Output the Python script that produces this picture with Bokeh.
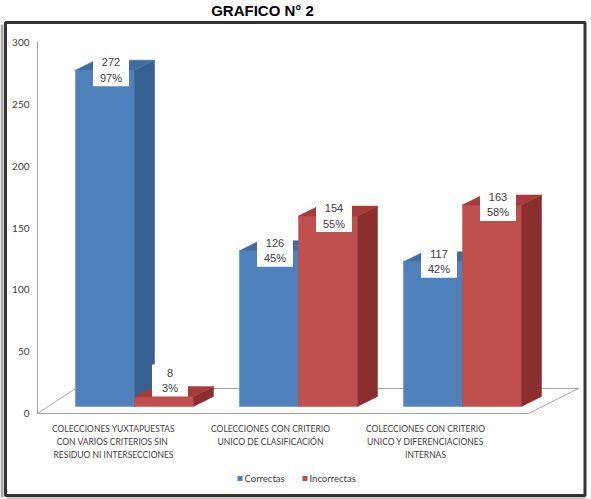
from bokeh.plotting import figure
from bokeh.models import Range1d
from bokeh.embed import file_html
from bokeh.resources import INLINE
from bokeh.core.properties import value

# --- data ---------------------------------------------------------------
title_text = "GRAFICO N° 2"
category_lines = [
    ["COLECCIONES YUXTAPUESTAS", "CON VARIOS CRITERIOS  SIN", "RESIDUO NI INTERSECCIONES"],
    ["COLECCIONES CON CRITERIO", "UNICO DE CLASIFICACIÓN"],
    ["COLECCIONES CON CRITERIO", "UNICO Y DIFERENCIACIONES", "INTERNAS"],
]
series_names = ["Correctas", "Incorrectas"]
correctas = [272, 126, 117]
incorrectas = [8, 154, 163]
pct_correctas = ["97%", "45%", "42%"]
pct_incorrectas = ["3%", "55%", "58%"]
y_ticks = [0, 50, 100, 150, 200, 250, 300]

# --- styling / layout ---------------------------------------------------
W, H = 591, 499
K = 371 / 300            # pixels per unit on the value scale
Y0_PX = 413              # pixel row of value 0 on the front plane
FONT = value("Lato")
TXT = "#404040"
face_colors = {
    "Correctas": ("#4f81bd", "#35608f", "#3f6ca3"),     # front, side, top
    "Incorrectas": ("#c0504d", "#8a2f2d", "#a63c39"),
}
GX0, GSTEP, BW = 75, 164, 59      # group start, group step, bar width (px)
DX, DY = 20, 10 / K               # bar depth offset (px, value units)
BASE = 7 / K                      # bars stand a little behind the front edge
FLOOR_D = 25 / K

p = figure(width=W, height=H,
           x_range=Range1d(0, W),
           y_range=Range1d(-(H - Y0_PX) / K, Y0_PX / K),
           x_axis_type=None, y_axis_type=None,
           output_backend="svg", toolbar_location=None,
           min_border=0, min_border_left=0, min_border_right=0,
           min_border_top=0, min_border_bottom=0,
           outline_line_color=None,
           background_fill_color="white", border_fill_color="white")
p.grid.visible = False
# a second vertical scale in screen rows for the frame and text furniture
p.extra_y_ranges = {"px": Range1d(H, 0)}

# chart frame with a soft shadow
p.segment(x0=[1.5], y0=[24], x1=[1.5], y1=[497], line_color="#a8a8a8",
          line_width=3, y_range_name="px")
p.segment(x0=[6], y0=[497.5], x1=[586], y1=[497.5], line_color="#c8c8c8",
          line_width=2, y_range_name="px")
p.quad(left=[5], right=[584.5], top=[22], bottom=[495], fill_color=None,
       line_color="#333333", line_width=3, y_range_name="px")

# title above the frame
p.text(x=[262], y=[10], text=[title_text], y_range_name="px",
       text_font=value("Liberation Sans"), text_font_style="bold",
       text_font_size="15px", text_color="black",
       text_align="center", text_baseline="middle")

# floor and value axis line
p.patch(x=[37, 528, 578, 75], y=[0, 0, FLOOR_D, FLOOR_D],
        fill_color="white", line_color="#a6a6a6", line_width=1)
p.segment(x0=[37], y0=[0], x1=[37], y1=[(Y0_PX - 41) / K],
          line_color="#a6a6a6", line_width=1)
p.text(x=[29] * len(y_ticks), y=y_ticks, text=[str(t) for t in y_ticks],
       text_font=FONT, text_font_size="10px", text_color=TXT,
       text_align="right", text_baseline="middle")

# 3-D columns, drawn back to front, left to right
xs, ys, colors = [], [], []
lab_x, lab_y, lab_t1, lab_t2 = [], [], [], []
series = [(correctas, pct_correctas), (incorrectas, pct_incorrectas)]
for ci in range(len(correctas)):
    for si, (vals, pcts) in enumerate(series):
        v = vals[ci]
        front, side, top = face_colors[series_names[si]]
        x0 = GX0 + ci * GSTEP + si * BW
        x1 = x0 + BW
        b, t = BASE, BASE + v
        xs += [[x0, x1, x1, x0], [x1, x1 + DX, x1 + DX, x1], [x0, x1, x1 + DX, x0 + DX]]
        ys += [[b, b, t, t], [b, b + DY, t + DY, t], [t, t, t + DY, t + DY]]
        colors += [front, side, top]
        lab_x.append((x0 + x1) / 2 + 6)
        lab_y.append(BASE + max(v, 21))
        lab_t1.append(str(v))
        lab_t2.append(pcts[ci])
p.patches(xs=xs, ys=ys, fill_color=colors, line_color=colors, line_width=0.5)

# data labels on white boxes
p.rect(x=lab_x, y=lab_y, width=36, height=32 / K, fill_color="white",
       line_color=None)
p.text(x=lab_x, y=[y + 8 / K for y in lab_y], text=lab_t1, text_font=value("Liberation Sans"),
       text_font_size="11px", text_color=TXT, text_align="center",
       text_baseline="middle")
p.text(x=lab_x, y=[y - 7.5 / K for y in lab_y], text=lab_t2, text_font=value("Liberation Sans"),
       text_font_size="11px", text_color=TXT, text_align="center",
       text_baseline="middle")

# category labels under the floor
cat_centers = [113, 270, 425]
for cx, lines in zip(cat_centers, category_lines):
    p.text(x=[cx] * len(lines), y=[428 + 13 * i for i in range(len(lines))],
           text=lines, y_range_name="px", text_font=FONT,
           text_font_size="8.5px", text_color=TXT, text_align="center",
           text_baseline="middle")

# legend
leg_x = [237, 302]
for lx, name in zip(leg_x, series_names):
    p.quad(left=[lx], right=[lx + 5], top=[475.5], bottom=[480.5],
           fill_color=face_colors[name][0], line_color=None, y_range_name="px")
    p.text(x=[lx + 7], y=[478], text=[name], y_range_name="px",
           text_font=FONT, text_font_size="9.5px", text_color=TXT,
           text_align="left", text_baseline="middle")

open("out.html", "w").write(file_html(p, INLINE))
